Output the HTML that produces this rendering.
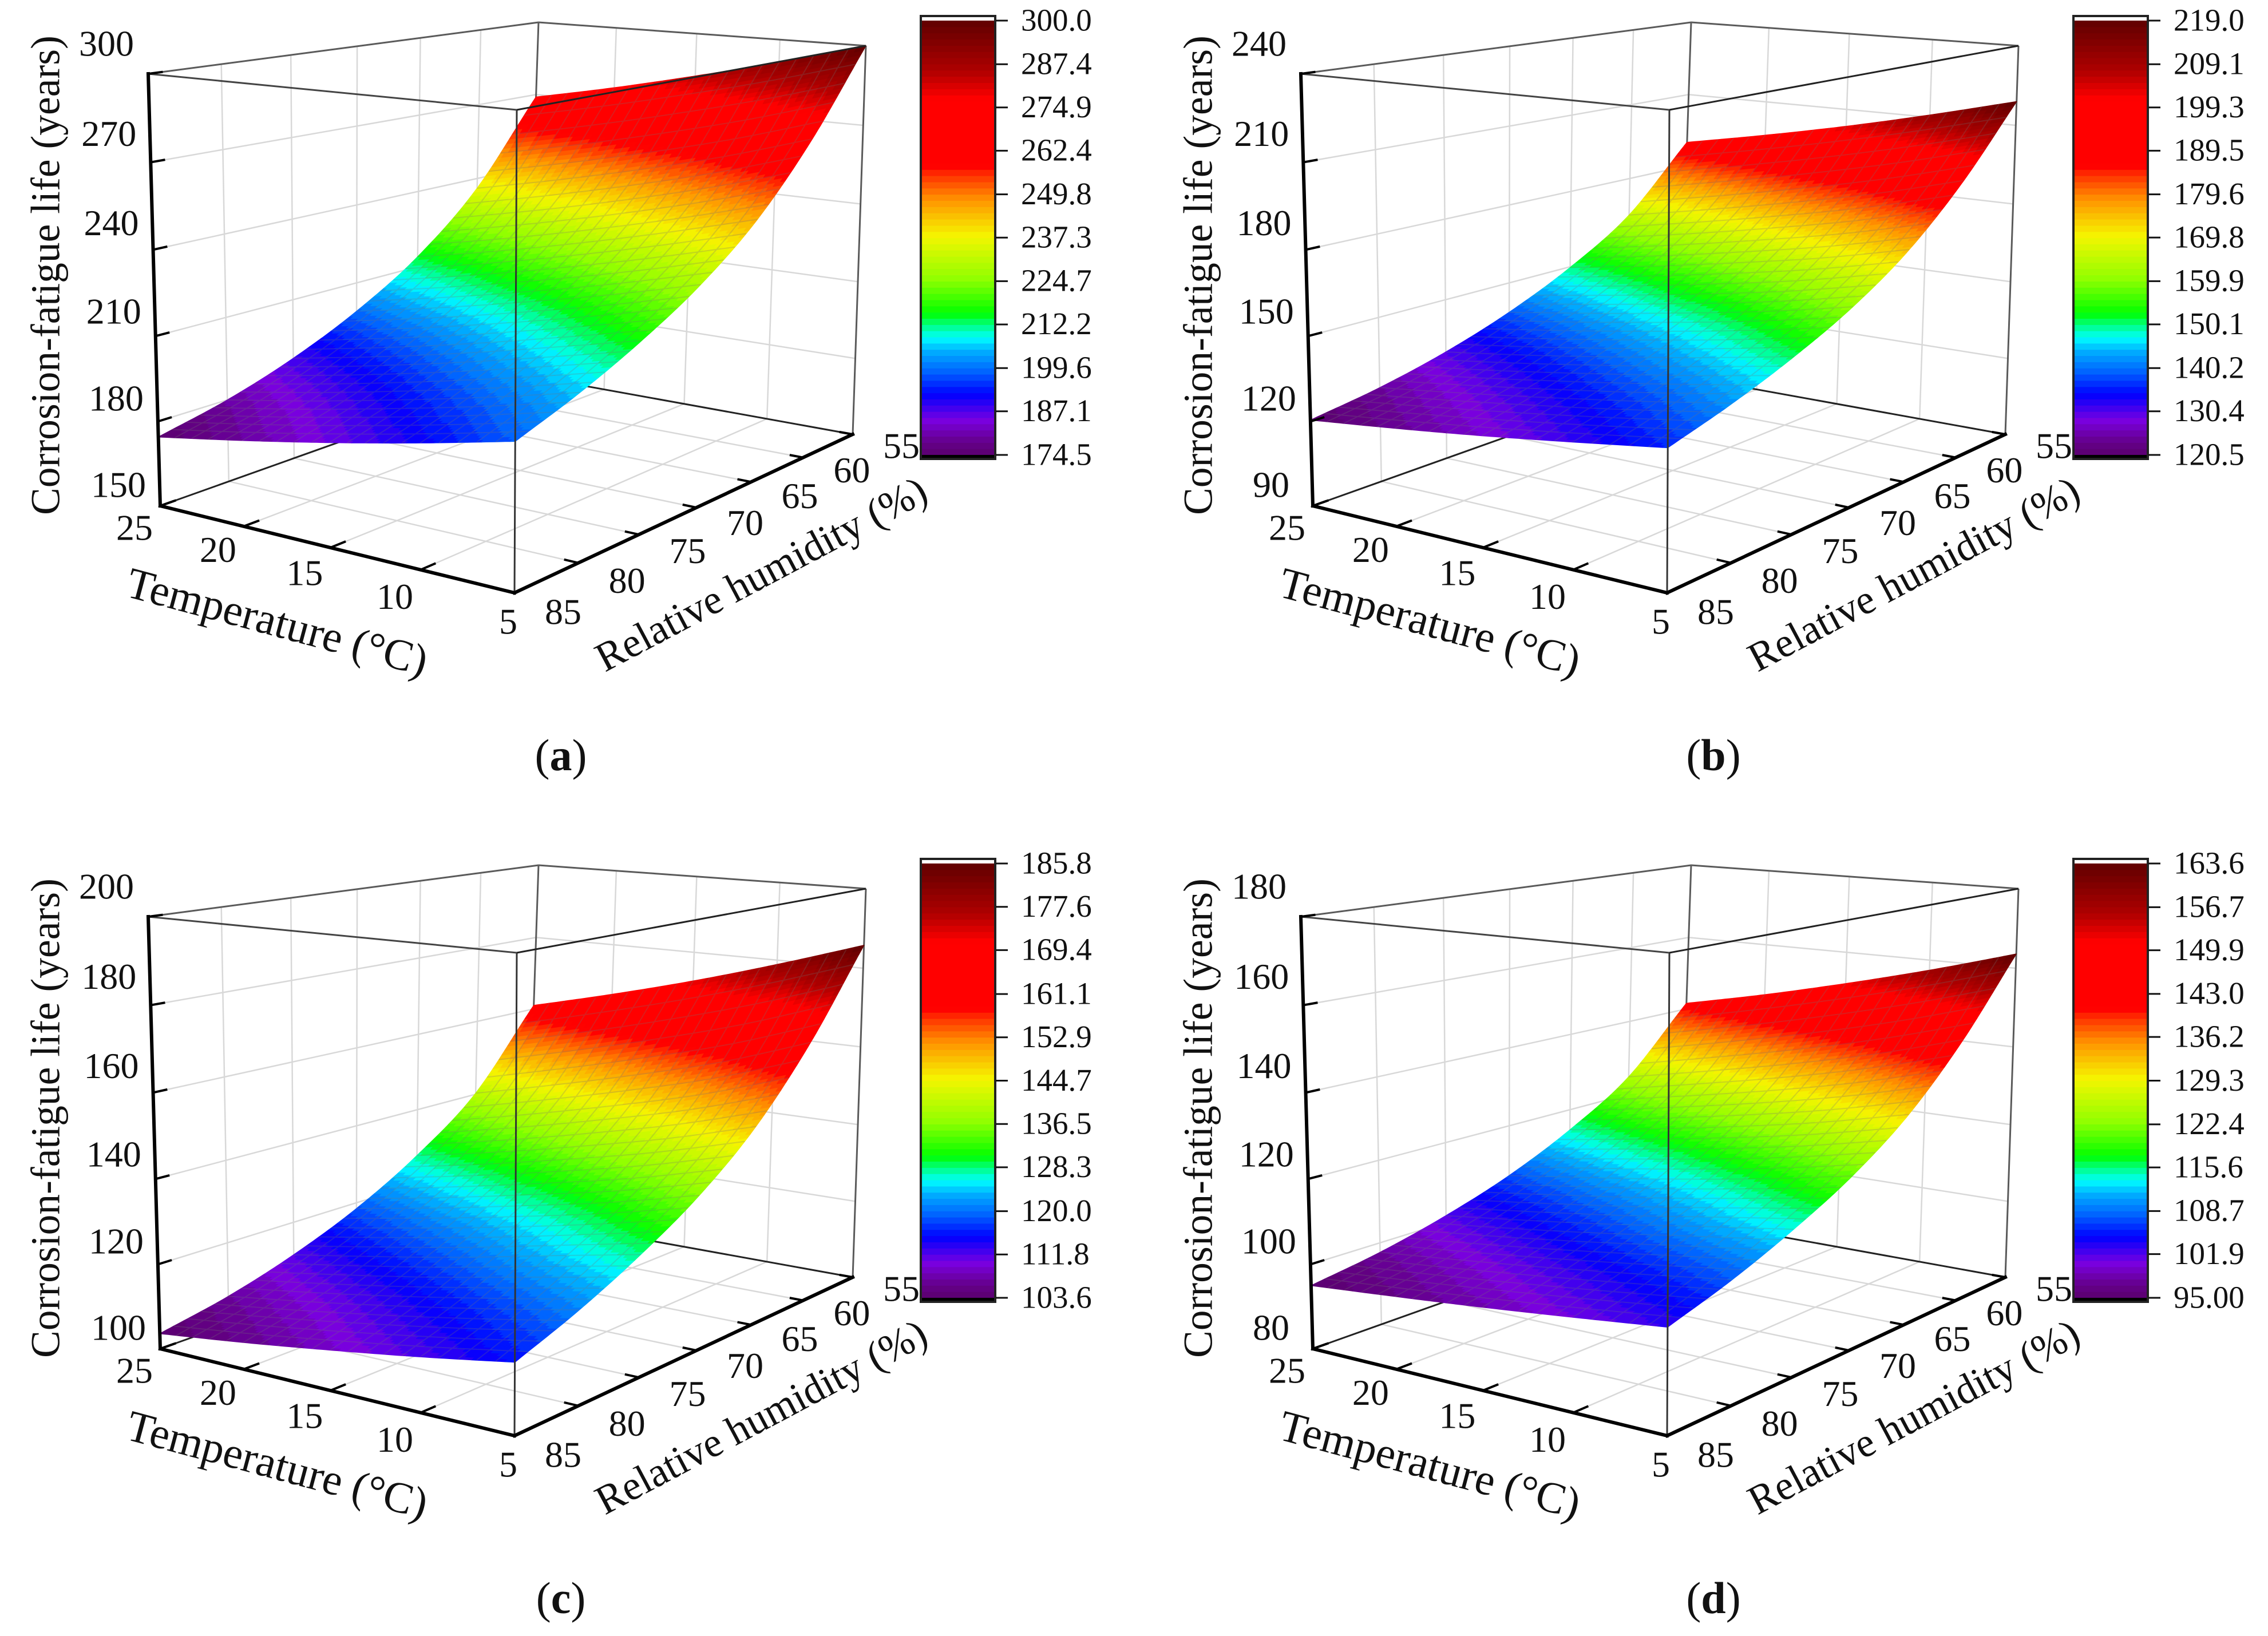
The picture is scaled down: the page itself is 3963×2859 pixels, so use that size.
<!DOCTYPE html>
<html lang="en">
<head>
<meta charset="utf-8">
<title>Corrosion-fatigue life response surfaces</title>
<style>
html,body{margin:0;padding:0;background:#fff}
svg{display:block}
text{font-family:"Liberation Serif",serif;fill:#111}
</style>
</head>
<body>
<svg id="figure" xmlns="http://www.w3.org/2000/svg" width="3963" height="2859" viewBox="0 0 3963 2859">
<rect width="3963" height="2859" fill="#fff"/>
</svg>
<script>
const temperatureTicks = [25, 20, 15, 10, 5];
const humidityTicks = [85, 80, 75, 70, 65, 60, 55];

const panelAZTicks = [150, 180, 210, 240, 270, 300];
const panelBZTicks = [90, 120, 150, 180, 210, 240];
const panelCZTicks = [100, 120, 140, 160, 180, 200];
const panelDZTicks = [80, 100, 120, 140, 160, 180];

const panelAColorbarLabels = ['174.5','187.1','199.6','212.2','224.7','237.3','249.8','262.4','274.9','287.4','300.0'];
const panelBColorbarLabels = ['120.5','130.4','140.2','150.1','159.9','169.8','179.6','189.5','199.3','209.1','219.0'];
const panelCColorbarLabels = ['103.6','111.8','120.0','128.3','136.5','144.7','152.9','161.1','169.4','177.6','185.8'];
const panelDColorbarLabels = ['95.00','101.9','108.7','115.6','122.4','129.3','136.2','143.0','149.9','156.7','163.6'];

/* rows: humidity 85 to 55; columns: temperature 25 to 5 */
const panelASurface = [
  [174.5,179.7,185.3,191.4,198],
  [180,185.7,192,198.7,206],
  [188,194.2,201,208.4,216],
  [199,205.5,212.6,220.2,228.5],
  [214,220.9,228.5,236.7,245.5],
  [236,243.2,251,259.6,269.5],
  [269,275.8,283.3,291.3,300]
];
const panelBSurface = [
  [120.5,123.9,127.6,131.7,136],
  [124.5,128.5,132.8,137.4,142.5],
  [130.4,134.8,139.7,144.9,150.6],
  [138.6,143.4,148.6,154.2,160.8],
  [149.7,155,160.9,167.2,174.7],
  [165,171.4,178.2,185.6,194.2],
  [190,196.4,203.3,210.9,219]
];
const panelCSurface = [
  [103.6,106.2,109.1,112.2,115.6],
  [106.9,110,113.4,117.1,121.1],
  [111.8,115.5,119.4,123.8,128],
  [118.5,122.5,126.8,131.3,136.6],
  [127.7,132.1,137,142.2,148.3],
  [140.3,145.6,151.2,157.3,164.8],
  [161,166.5,172.4,178.9,185.8]
];
const panelDSurface = [
  [95,96.8,98.7,100.8,103],
  [97.7,99.9,102.3,104.9,107.7],
  [101.7,104.4,107.3,110.6,113.7],
  [107.1,110.2,113.4,117,121.1],
  [114.6,118.2,122,126.2,131.2],
  [124.8,129.3,134,139.3,145.5],
  [141.6,146.4,151.7,157.4,163.6]
];

const panels = [
  {id:'a', dx:0,    dy:0,    zTicks:panelAZTicks, bar:panelAColorbarLabels, surface:panelASurface},
  {id:'b', dx:2014, dy:0,    zTicks:panelBZTicks, bar:panelBColorbarLabels, surface:panelBSurface},
  {id:'c', dx:0,    dy:1473, zTicks:panelCZTicks, bar:panelCColorbarLabels, surface:panelCSurface},
  {id:'d', dx:2014, dy:1473, zTicks:panelDZTicks, bar:panelDColorbarLabels, surface:panelDSurface}
];

/* rainbow colour map taken from the colour bar */
const mapStops = [0,.03,.08,.14,.19,.24,.27,.30,.326,.405,.505,.59,.645,.665,.82,.883,1];
const mapColors = [[90,0,110],[101,0,138],[122,0,224],[0,0,255],[0,96,255],[0,176,255],[0,255,255],[0,255,128],[0,255,0],[144,255,0],[245,245,0],[255,144,0],[255,48,0],[255,0,0],[255,0,0],[176,0,0],[96,0,0]];
const LEVELS = 70;

const NS = 'http://www.w3.org/2000/svg';
const root = document.getElementById('figure');

function mk(tag, parent, props) {
  const el = document.createElementNS(NS, tag);
  for (const k in props) el.setAttribute(k, props[k]);
  parent.appendChild(el);
  return el;
}
function colorAt(f) {
  f = Math.max(0, Math.min(1, f));
  let i = 0;
  while (i < mapStops.length - 2 && f > mapStops[i + 1]) i++;
  const u = (f - mapStops[i]) / (mapStops[i + 1] - mapStops[i]);
  const a = mapColors[i], b = mapColors[i + 1];
  return 'rgb(' + [0,1,2].map(c => Math.round(a[c] + (b[c] - a[c]) * u)).join(',') + ')';
}

/* box geometry: index [t][r], t 0=25C 1=5C, r 0=85% 1=55% */
const floorCorners = [[[280,884],[920,656]],[[899,1036],[1490,759]]];
const topCorners = [[[259,129],[941,39]],[[903,192],[1513,80]]];
const depthWeights = [[Math.pow(755,-.7),Math.pow(617,-.7)],[Math.pow(844,-.7),Math.pow(679,-.7)]];

function project(t, r, z) {
  const zz = z / (z + 1.03 * (1 - z));
  let x = 0, y = 0, w = 0;
  for (let i = 0; i < 2; i++) for (let j = 0; j < 2; j++) {
    const b = (i ? t : 1 - t) * (j ? r : 1 - r) * depthWeights[i][j];
    const fl = floorCorners[i][j], tp = topCorners[i][j];
    x += b * (fl[0] + (tp[0] - fl[0]) * zz);
    y += b * (fl[1] + (tp[1] - fl[1]) * zz);
    w += b;
  }
  return [x / w, y / w];
}
function tOf(T) { return (25 - T) / 20; }
function rOf(H) { return (85 - H) / 30; }

function cr(p0, p1, p2, p3, u) {
  return .5 * (2 * p1 + (p2 - p0) * u + (2 * p0 - 5 * p1 + 4 * p2 - p3) * u * u + (3 * p1 - p0 - 3 * p2 + p3) * u * u * u);
}
function sample1(arr, x) {
  const n = arr.length - 1;
  const i = Math.min(n - 1, Math.floor(x));
  const u = x - i;
  const g = k => k < 0 ? 2 * arr[0] - arr[1] : k > n ? 2 * arr[n] - arr[n - 1] : arr[k];
  return cr(g(i - 1), g(i), g(i + 1), g(i + 2), u);
}
function sampleSurface(grid, t, r) {
  const col = grid.map(row => sample1(row, t * (row.length - 1)));
  return sample1(col, r * (grid.length - 1));
}
function pathOf(pts) {
  return 'M' + pts.map(p => p[0].toFixed(1) + ' ' + p[1].toFixed(1)).join('L');
}

function drawPanel(P) {
  const g = mk('g', root, {transform:'translate(' + P.dx + ' ' + P.dy + ')'});
  
  

  const zMin = P.zTicks[0], zMax = P.zTicks[P.zTicks.length - 1];
  const zOf = v => (v - zMin) / (zMax - zMin);
  const cMin = parseFloat(P.bar[0]), cMax = parseFloat(P.bar[P.bar.length - 1]);

  /* grid lines */
  const gridG = mk('g', g, {stroke:'#d8d8d8', 'stroke-width':2.5, fill:'none'});
  
  
  let d = '';
  temperatureTicks.forEach(T => {
    const t = tOf(T);
    d += pathOf([project(t,0,0), project(t,1,0), project(t,1,1)]);
  });
  humidityTicks.forEach(H => {
    const r = rOf(H);
    d += pathOf([project(1,r,0), project(0,r,0), project(0,r,1)]);
  });
  P.zTicks.forEach(v => {
    const z = zOf(v);
    d += pathOf([project(0,0,z), project(0,1,z), project(1,1,z)]);
  });
  const gridPath = mk('path', gridG, {d:d});
  
  

  /* back box lines */
  const back = [[[0,0,1],[0,1,1],'#5a5a5a'],[[0,1,1],[1,1,1],'#5a5a5a'],[[0,1,0],[0,1,1],'#5a5a5a'],[[0,0,0],[0,1,0],'#222'],[[1,1,0],[0,1,0],'#222'],[[1,1,0],[1,1,1],'#5a5a5a']];
  const backG = mk('g', g, {'stroke-width':3, fill:'none'});
  
  
  back.forEach(e => {
    const l = mk('path', backG, {d:pathOf([project.apply(null,e[0]), project.apply(null,e[1])]), stroke:e[2]});
    
    
  });

  /* surface */
  const nT = 80, nR = 120;
  const zs = [], pts = [];
  for (let i = 0; i <= nT; i++) {
    zs.push([]); pts.push([]);
    for (let j = 0; j <= nR; j++) {
      const v = sampleSurface(P.surface, i / nT, j / nR);
      zs[i].push(v);
      pts[i].push(project(i / nT, j / nR, zOf(v)));
    }
  }
  const bands = [];
  for (let k = 0; k < LEVELS; k++) bands.push([]);
  for (let i = 0; i < nT; i++) for (let j = 0; j < nR; j++) {
    const mean = (zs[i][j] + zs[i+1][j] + zs[i][j+1] + zs[i+1][j+1]) / 4;
    const f = (mean - cMin) / (cMax - cMin);
    const k = Math.max(0, Math.min(LEVELS - 1, Math.floor(f * LEVELS)));
    bands[k].push(pathOf([pts[i][j], pts[i+1][j], pts[i+1][j+1], pts[i][j+1]]) + 'Z');
  }
  const surfG = mk('g', g, {'stroke-width':1.4, 'stroke-linejoin':'round'});
  
  
  bands.forEach((b, k) => {
    if (!b.length) return;
    const c = colorAt((k + .5) / LEVELS);
    const band = mk('path', surfG, {d:b.join(''), fill:c, stroke:c});
    
    
  });

  /* surface mesh */
  let mesh = '';
  for (let a = 1; a < 20; a++) {
    const i = Math.round(a * nT / 20), row = [];
    for (let j = 0; j <= nR; j += 4) row.push(pts[i][j]);
    mesh += pathOf(row);
  }
  for (let b = 1; b < 30; b++) {
    const j = Math.round(b * nR / 30), row = [];
    for (let i = 0; i <= nT; i += 4) row.push(pts[i][j]);
    mesh += pathOf(row);
  }
  const meshPath = mk('path', g, {d:mesh, fill:'none', stroke:'rgba(115,115,115,.25)', 'stroke-width':2});
  
  

  /* front box lines */
  const front = [[[1,0,0],[1,0,1],'#333'],[[0,0,1],[1,0,1],'#444'],[[1,0,1],[1,1,1],'#222']];
  const frontG = mk('g', g, {'stroke-width':3, fill:'none'});
  
  
  front.forEach(e => {
    const l = mk('path', frontG, {d:pathOf([project.apply(null,e[0]), project.apply(null,e[1])]), stroke:e[2]});
    
    
  });

  /* bold axes and ticks */
  const axG = mk('g', g, {stroke:'#000', 'stroke-width':6, fill:'none', 'stroke-linecap':'square'});
  
  
  const zAxis = mk('path', axG, {d:pathOf([project(0,0,0), project(0,0,1)])});
  
  
  const tAxis = mk('path', axG, {d:pathOf([project(0,0,0), project(1,0,0)])});
  
  
  const rAxis = mk('path', axG, {d:pathOf([project(1,0,0), project(1,1,0)])});
  
  

  function tickLabel(str, x, y, name, anchor, size) {
    const t = mk('text', g, {x:x, y:y, 'font-size':size || 64, 'text-anchor':anchor || 'middle', dy:'.35em'});
    t.textContent = str;
    
    
    return t;
  }
  P.zTicks.forEach(v => {
    const z = zOf(v), a = project(0,0,z), b = project(0,.03,z);
    const tk = mk('path', axG, {d:pathOf([a,b]), 'stroke-width':4});
    
    
    tickLabel(String(v), a[0] - 73, a[1] - 38 - 16 * z, 'z-axis-tick-label');
  });
  temperatureTicks.forEach(T => {
    const t = tOf(T), a = project(t,0,0), b = project(t,.035,0);
    const tk = mk('path', axG, {d:pathOf([a,b]), 'stroke-width':4});
    
    
    const s = String(T);
    tickLabel(s, a[0] + (s.length === 1 ? -11 : -45), a[1] + 37 + 12 * t, 'temperature-tick-label');
  });
  humidityTicks.forEach(H => {
    const r = rOf(H), a = project(1,r,0), b = project(.965,r,0);
    const tk = mk('path', axG, {d:pathOf([a,b]), 'stroke-width':4});
    
    
    tickLabel(String(H), a[0] + 85, a[1] + 32 - 13 * r, 'humidity-tick-label');
  });

  /* axis titles */
  const zt = mk('text', g, {transform:'translate(82 481) rotate(-90)', 'font-size':71.5, 'text-anchor':'middle', dy:'.3em'});
  zt.textContent = 'Corrosion-fatigue life (years)';
  
  
  const tt = mk('text', g, {transform:'translate(484 1089) rotate(15)', 'font-size':77, 'text-anchor':'middle', dy:'.3em'});
  tt.textContent = 'Temperature (\u00B0C)';
  
  
  const rt = mk('text', g, {transform:'translate(1331 1005) rotate(-28)', 'font-size':72, 'text-anchor':'middle', dy:'.3em'});
  rt.textContent = 'Relative humidity (%)';
  
  

  /* colour bar */
  const barG = mk('g', g, {});
  
  
  const barX = 1610, barW = 128, barTop = 36, barBot = 795;
  const yOf = v => barBot - (v - cMin) / (cMax - cMin) * (barBot - barTop);
  for (let k = 0; k < LEVELS; k++) {
    const v0 = cMin + (cMax - cMin) * k / LEVELS, v1 = cMin + (cMax - cMin) * (k + 1) / LEVELS;
    const sw = mk('rect', barG, {x:barX, y:yOf(v1).toFixed(1), width:barW, height:(yOf(v0) - yOf(v1) + .6).toFixed(1), fill:colorAt((k + .5) / LEVELS)});
    
    
  }
  const under = mk('rect', barG, {x:barX, y:barBot, width:barW, height:7, fill:'#000'});
  
  
  const frame = mk('rect', barG, {x:barX - 1, y:28, width:barW + 2, height:774, fill:'none', stroke:'#222', 'stroke-width':4});
  
  
  P.bar.forEach(s => {
    const y = yOf(parseFloat(s));
    const tk = mk('line', barG, {x1:1740, x2:1761, y1:y, y2:y, stroke:'#111', 'stroke-width':3});
    
    
    tickLabel(s, 1784, y - 2, 'colorbar-tick-label', 'start', 55);
  });

  /* caption */
  const cap = mk('text', g, {x:980, y:1346, 'font-size':78, 'text-anchor':'middle'});
  
  
  cap.appendChild(document.createTextNode('('));
  const letter = mk('tspan', cap, {'font-weight':'bold'});
  letter.textContent = P.id;
  cap.appendChild(document.createTextNode(')'));
}

panels.forEach(drawPanel);
</script>
</body>
</html>
